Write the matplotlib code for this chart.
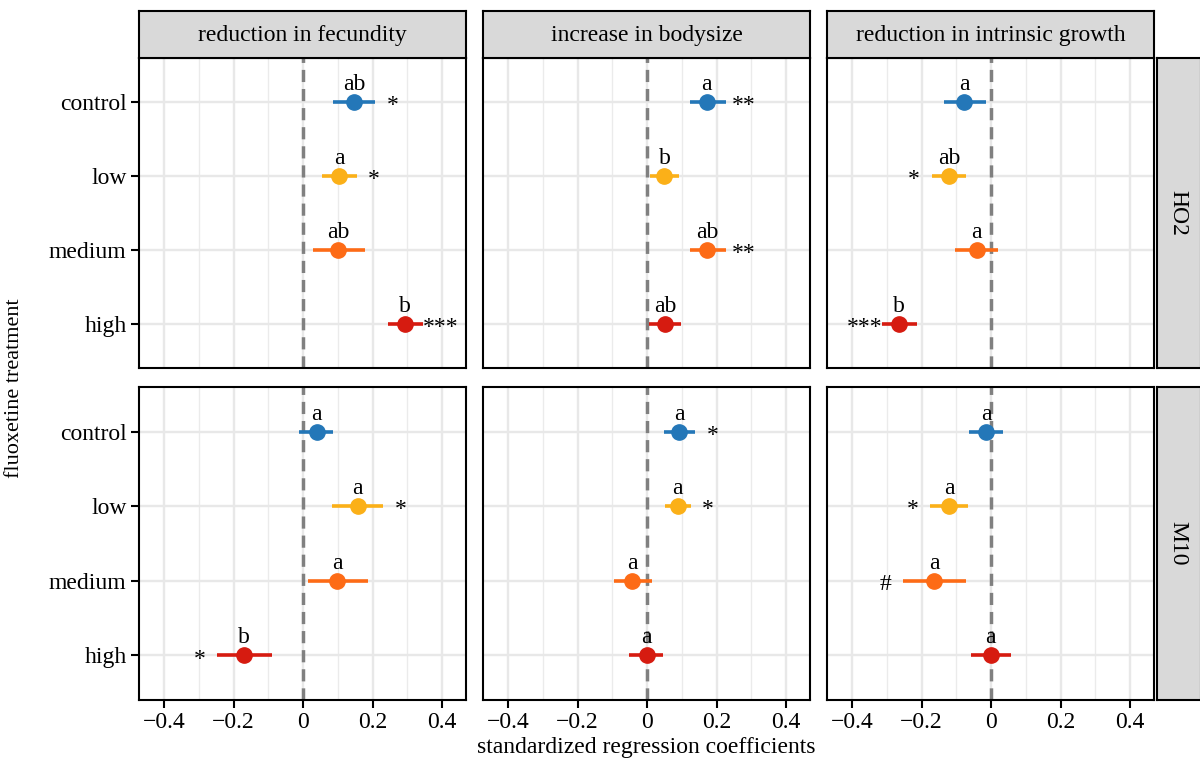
import numpy as np
import matplotlib
matplotlib.use('Agg')
import matplotlib.pyplot as plt

plt.rcParams['font.family'] = ['Liberation Serif', 'DejaVu Serif']

treatments = ['control', 'low', 'medium', 'high']
responses = ['reduction in fecundity', 'increase in bodysize', 'reduction in intrinsic growth']
sites = ['HO2', 'M10']
colors = ['#2477b8', '#fbb018', '#fd6b16', '#d61b10']

# HO2 row: one list per response, values in treatment order
ho2_est = [[0.148, 0.104, 0.102, 0.293],
           [0.172, 0.050, 0.174, 0.052],
           [-0.078, -0.120, -0.041, -0.264]]
ho2_lo = [[0.087, 0.056, 0.028, 0.244],
          [0.124, 0.009, 0.124, 0.006],
          [-0.135, -0.171, -0.104, -0.315]]
ho2_hi = [[0.207, 0.154, 0.178, 0.346],
          [0.227, 0.092, 0.228, 0.098],
          [-0.015, -0.072, 0.021, -0.212]]
ho2_letters = [['ab', 'a', 'ab', 'b'],
               ['a', 'b', 'ab', 'ab'],
               ['a', 'ab', 'a', 'b']]
ho2_sig = [['*', '*', '', '***'],
           ['**', '', '**', ''],
           ['', '*', '', '***']]

# M10 row
m10_est = [[0.039, 0.157, 0.099, -0.169],
           [0.092, 0.088, -0.042, -0.001],
           [-0.014, -0.121, -0.163, -0.001]]
m10_lo = [[-0.013, 0.084, 0.015, -0.247],
          [0.049, 0.052, -0.095, -0.051],
          [-0.063, -0.176, -0.253, -0.058]]
m10_hi = [[0.087, 0.231, 0.188, -0.090],
          [0.138, 0.126, 0.013, 0.047],
          [0.035, -0.065, -0.072, 0.058]]
m10_letters = [['a', 'a', 'a', 'b'],
               ['a', 'a', 'a', 'a'],
               ['a', 'a', 'a', 'a']]
m10_sig = [['', '*', '', '*'],
           ['*', '*', '', ''],
           ['', '*', '#', '']]

rows = [(ho2_est, ho2_lo, ho2_hi, ho2_letters, ho2_sig),
        (m10_est, m10_lo, m10_hi, m10_letters, m10_sig)]

W, H = 1200, 764
fig = plt.figure(figsize=(12, 7.64), dpi=100, facecolor='white')

col_left = [139, 483, 827]
panel_w = 327
row_top = [58, 387]
panel_h = [310, 313]
strip_h = 47
fs = 17

def tick_fmt(v):
    if abs(v) < 1e-9:
        return '0'
    return ('%.1f' % v).replace('-', '\u2212')

xt = [-0.4, -0.2, 0, 0.2, 0.4]
xminor = [-0.3, -0.1, 0.1, 0.3]
ypos = np.arange(1, len(treatments) + 1)

for r in range(2):
    est, lo, hi, letters, sig = rows[r]
    for c in range(3):
        left = col_left[c] / W
        bottom = 1 - (row_top[r] + panel_h[r]) / H
        ax = fig.add_axes([left, bottom, panel_w / W, panel_h[r] / H])
        ax.set_xlim(-0.472, 0.469)
        ax.set_ylim(4.6, 0.4)
        # grid
        for g in xminor:
            ax.axvline(g, color='#ebebeb', lw=1.0, zorder=0)
        for g in xt:
            ax.axvline(g, color='#e8e8e8', lw=1.7, zorder=0)
        for g in ypos:
            ax.axhline(g, color='#e8e8e8', lw=1.7, zorder=0)
        ax.axvline(0, color='#808080', lw=2.5, ls=(0, (3.5, 2.0)), zorder=1)

        for i in range(len(treatments)):
            y = ypos[i]
            ax.plot([lo[c][i], hi[c][i]], [y, y], color=colors[i], lw=2.6,
                    solid_capstyle='butt', zorder=3)
            ax.plot(est[c][i], y, 'o', color=colors[i], ms=11, zorder=4)
            ax.text(est[c][i], y - 0.16, letters[c][i], ha='center', va='baseline',
                    fontsize=fs, zorder=5)
            if sig[c][i]:
                if est[c][i] >= 0:
                    sx = hi[c][i] + 0.05
                else:
                    sx = lo[c][i] - 0.05
                ax.text(sx, y + 0.05, sig[c][i], ha='center', va='center',
                        fontsize=fs, zorder=5)

        ax.set_xticks(xt)
        ax.set_yticks(ypos)
        ax.tick_params(length=6, width=1.5, color='black', labelsize=fs, pad=3,
                       bottom=(r == 1), left=(c == 0))
        if r == 1:
            ax.set_xticklabels([tick_fmt(v) for v in xt])
        else:
            ax.set_xticklabels([])
        if c == 0:
            ax.set_yticklabels(treatments)
        else:
            ax.set_yticklabels([])
        for sp in ax.spines.values():
            sp.set_linewidth(1.5)
            sp.set_color('black')

        # top strips
        if r == 0:
            sax = fig.add_axes([left, 1 - row_top[0] / H, panel_w / W, strip_h / H])
            sax.set_xlim(0, 1)
            sax.set_ylim(0, 1)
            sax.set_facecolor('#d9d9d9')
            sax.set_xticks([])
            sax.set_yticks([])
            for sp in sax.spines.values():
                sp.set_linewidth(1.5)
            sax.text(0.5, 0.47, responses[c], ha='center', va='center', fontsize=fs)

    # right strips
    rax = fig.add_axes([1157 / W, 1 - (row_top[r] + panel_h[r]) / H, 44 / W, panel_h[r] / H])
    rax.set_xlim(0, 1)
    rax.set_ylim(0, 1)
    rax.set_facecolor('#d9d9d9')
    rax.set_xticks([])
    rax.set_yticks([])
    for sp in rax.spines.values():
        sp.set_linewidth(1.5)
    rax.text(0.47, 0.5, sites[r], ha='center', va='center', rotation=-90, fontsize=fs)

fig.text(646 / W, 1 - 748 / H, 'standardized regression coefficients', ha='center',
         va='center', fontsize=fs)
fig.text(15 / W, 1 - 388 / H, 'fluoxetine treatment', ha='center', va='center',
         rotation=90, fontsize=16)

fig.savefig('out.png', dpi=100, facecolor='white')
